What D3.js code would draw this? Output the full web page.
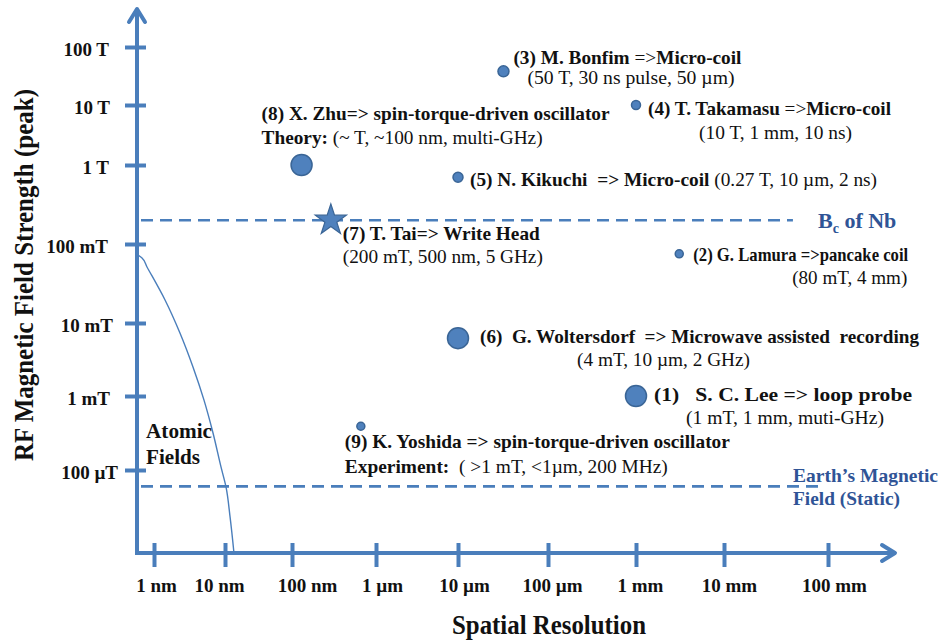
<!DOCTYPE html>
<html>
<head>
<meta charset="utf-8">
<script src="https://cdn.jsdelivr.net/npm/d3@7"></script>
<style>
  html, body { margin: 0; padding: 0; background: #ffffff; }
  svg { display: block; }
  svg text { font-family: "Liberation Serif", "Times New Roman", Times, serif !important; white-space: pre; }
</style>
</head>
<body>
<svg id="chart" width="946" height="641"></svg>
<script>
// ---- Axis ticks (spatial resolution in metres, field in tesla) ----
const xTickValues = [1e-9, 1e-8, 1e-7, 1e-6, 1e-5, 1e-4, 1e-3, 1e-2, 1e-1];
const xTickLabels = ["1 nm", "10 nm", "100 nm", "1 \u00b5m", "10 \u00b5m", "100 \u00b5m", "1 mm", "10 mm", "100 mm"];
const yTickValues = [1e-4, 1e-3, 1e-2, 1e-1, 1, 10, 100];
const yTickLabels = ["100 \u00b5T", "1 mT", "10 mT", "100 mT", "1 T", "10 T", "100 T"];

// ---- Experiments: resolution (m) and peak RF field (T) ----
const pointIds        = [1, 2, 3, 4, 5, 6, 8, 9];
const pointResolution = [1e-3, 3.1e-3, 3.2e-5, 1e-3, 1e-5, 1e-5, 1.3e-7, 6.6e-7];
const pointField      = [1e-3, 0.075, 38, 10, 0.7, 6.2e-3, 1, 3.9e-4];

// Write head (drawn as a star)
const starIds        = [7];
const starResolution = [2.9e-7];
const starField      = [0.2];

// ---- Atomic field envelope ----
const atomicResolution = [0.595e-9, 0.678e-9, 0.797e-9, 1.43e-9, 2.32e-9, 3.54e-9, 5.06e-9, 6.78e-9, 8.78e-9, 1.035e-8, 1.19e-8, 1.36e-8];
const atomicField      = [0.0726, 0.0665, 0.0512, 0.01955, 7.3e-3, 2.5e-3, 8.8e-4, 3.16e-4, 1.1e-4, 5.9e-5, 2.32e-5, 7.6e-6];

// ---- Reference field levels ----
const refNames  = ["Nb", "Earth"];
const refField  = [0.2, 6e-5];
const refExtent = [4.6e-2, 8.6e-2];

// ---- Annotation text: each line is a list of [weight, text] runs ----
const annotationText = {
  3: [[["b", "(3) M. Bonfim "], ["n", "=>"], ["b", "Micro-coil"]],
      [["n", "(50 T, 30 ns pulse, 50 \u00b5m)"]]],
  4: [[["b", "(4) T. Takamasu "], ["n", "=>"], ["b", "Micro-coil"]],
      [["n", "(10 T, 1 mm, 10 ns)"]]],
  8: [[["b", "(8) X. Zhu=> spin-torque-driven oscillator"]],
      [["b", "Theory: "], ["n", "(~ T, ~100 nm, multi-GHz)"]]],
  5: [[["b", "(5) N. Kikuchi  => Micro-coil "], ["n", "(0.27 T, 10 \u00b5m, 2 ns)"]]],
  7: [[["b", "(7) T. Tai=> Write Head"]],
      [["n", "(200 mT, 500 nm, 5 GHz)"]]],
  2: [[["b", "(2) G. Lamura =>pancake coil"]],
      [["n", "(80 mT, 4 mm)"]]],
  6: [[["b", "(6)  G. Woltersdorf  => Microwave assisted  recording"]],
      [["n", "(4 mT, 10 \u00b5m, 2 GHz)"]]],
  1: [[["b", "(1)   S. C. Lee => loop probe"]],
      [["n", "(1 mT, 1 mm, muti-GHz)"]]],
  9: [[["b", "(9) K. Yoshida => spin-torque-driven oscillator"]],
      [["b", "Experiment:"], ["n", "  ( >1 mT, <1\u00b5m, 200 MHz)"]]]
};

// ---- Layout & style ----
const W = 946, H = 641;
const blue = "#4a7ebb";
const markFill = "#4f81bd";
const markStroke = "#3a6596";
const labelBlue = "#2f5496";
const originX = 137, originY = 553;

// hand-spaced decades of the axes (piecewise log scales)
const xDecades = [1e-10, 1e-9, 1e-8, 1e-7, 1e-6, 1e-5, 1e-4, 1e-3, 1e-2, 1e-1, 1];
const xDecadePx = [83, 154, 225, 292, 376, 458, 548, 636, 724, 828, 932];
const yDecades = [1e-6, 1e-5, 1e-4, 1e-3, 1e-2, 1e-1, 1, 10, 100, 1000];
const yDecadePx = [618, 544, 470, 396, 323, 244, 165, 105, 47, -11];

const x = d3.scaleLog().domain(xDecades).range(xDecadePx);
const y = d3.scaleLog().domain(yDecades).range(yDecadePx);

const markRadius = { 1: 10.5, 2: 4, 3: 5.5, 4: 4.5, 5: 5, 6: 10.5, 8: 10.5, 9: 4 };
// text offsets from each mark and target line widths
const annotationLayout = {
  3: [[10, -7, 228], [24, 13, 207]],
  4: [[12, 10, 243], [63, 34, 153]],
  8: [[-40, -45, 348], [-40, -21, 281]],
  5: [[12, 9, 407]],
  7: [[12, 20, 197], [12, 43, 200]],
  2: [[14, 7, 215], [113, 30, 115]],
  6: [[22, 5, 439], [119, 28, 173]],
  1: [[18, 5, 258], [50, 28, 198]],
  9: [[-16, 22, 385], [-16, 47, 323]]
};
const xLabelNudge = [2, -6, 15, 6, 6, 4, 4, 5, 6];
const yLabelRight = [118, 110, 113, 108, 109, 110, 109];

const svg = d3.select("#chart");
svg.append("rect").attr("width", W).attr("height", H).attr("fill", "#ffffff");

// ---- Reference dashed lines ----
const refG = svg.append("g");
refField.forEach((v, i) => {
  refG.append("line")
    .attr("x1", originX + 4).attr("x2", x(refExtent[i]))
    .attr("y1", y(v)).attr("y2", y(v))
    .attr("stroke", blue).attr("stroke-width", 2.6)
    .attr("stroke-dasharray", "12,7");
});

// ---- Atomic field curve ----
const atomicPts = atomicResolution.map((r, i) => [x(r), y(atomicField[i])]);
svg.append("path")
  .attr("d", d3.line().curve(d3.curveMonotoneY)(atomicPts))
  .attr("fill", "none").attr("stroke", blue).attr("stroke-width", 1.4);

// ---- Axes ----
const axisG = svg.append("g");
// y axis line + arrow
axisG.append("line").attr("x1", originX).attr("x2", originX)
  .attr("y1", originY + 2).attr("y2", 9)
  .attr("stroke", blue).attr("stroke-width", 4);
axisG.append("polyline")
  .attr("points", `${originX - 8},${22} ${originX},${9} ${originX + 8},${22}`)
  .attr("fill", "none").attr("stroke", blue).attr("stroke-width", 4)
  .attr("stroke-linecap", "round").attr("stroke-linejoin", "round");
// x axis line + arrow
axisG.append("line").attr("x1", originX - 2).attr("x2", 895)
  .attr("y1", originY).attr("y2", originY)
  .attr("stroke", blue).attr("stroke-width", 4);
axisG.append("polyline")
  .attr("points", `${882},${originY - 8} ${895},${originY} ${882},${originY + 8}`)
  .attr("fill", "none").attr("stroke", blue).attr("stroke-width", 4)
  .attr("stroke-linecap", "round").attr("stroke-linejoin", "round");

// x ticks via d3 axis
const xAxis = d3.axisBottom(x).tickValues(xTickValues)
  .tickFormat((d, i) => xTickLabels[i]).tickSizeOuter(0);
const gx = svg.append("g").attr("transform", `translate(0,${originY})`).call(xAxis);
gx.select(".domain").remove();
gx.selectAll(".tick line").attr("y1", -10).attr("y2", 14)
  .attr("stroke", blue).attr("stroke-width", 4);
gx.selectAll(".tick text")
  .attr("y", 39).attr("dy", 0)
  .attr("x", (d, i) => xLabelNudge[i])
  .attr("fill", "#111").attr("font-size", 19).attr("font-weight", "bold");

// y ticks via d3 axis
const yAxis = d3.axisLeft(y).tickValues(yTickValues)
  .tickFormat((d, i) => yTickLabels[i]).tickSizeOuter(0);
const gy = svg.append("g").attr("transform", `translate(${originX},0)`).call(yAxis);
gy.select(".domain").remove();
gy.selectAll(".tick line").attr("x1", -12).attr("x2", 9)
  .attr("stroke", blue).attr("stroke-width", 4);
gy.selectAll(".tick text")
  .attr("x", (d, i) => yLabelRight[i] - originX).attr("dy", 0).attr("y", 8)
  .attr("fill", "#111").attr("font-size", 19).attr("font-weight", "bold");

// ---- Axis titles ----
svg.append("text")
  .attr("transform", "translate(33,275) rotate(-90)")
  .attr("text-anchor", "middle")
  .attr("font-size", 28).attr("font-weight", "bold").attr("fill", "#111")
  .attr("textLength", 372).attr("lengthAdjust", "spacingAndGlyphs")
  .text("RF Magnetic Field Strength (peak)");
svg.append("text")
  .attr("x", 549).attr("y", 634)
  .attr("text-anchor", "middle")
  .attr("font-size", 28).attr("font-weight", "bold").attr("fill", "#111")
  .attr("textLength", 194).attr("lengthAdjust", "spacingAndGlyphs")
  .text("Spatial Resolution");

// ---- Reference labels ----
const bc = svg.append("text").attr("x", 818).attr("y", 228)
  .attr("font-size", 22).attr("font-weight", "bold").attr("fill", labelBlue);
bc.append("tspan").text("B");
bc.append("tspan").attr("font-size", 14).attr("dy", 5).text("c");
bc.append("tspan").attr("dy", -5).text(" of Nb");

svg.append("text").attr("x", 793).attr("y", 482)
  .attr("font-size", 19).attr("font-weight", "bold").attr("fill", labelBlue)
  .attr("textLength", 145).attr("lengthAdjust", "spacingAndGlyphs")
  .text("Earth\u2019s Magnetic");
svg.append("text").attr("x", 793).attr("y", 505)
  .attr("font-size", 19).attr("font-weight", "bold").attr("fill", labelBlue)
  .attr("textLength", 107).attr("lengthAdjust", "spacingAndGlyphs")
  .text("Field (Static)");

svg.append("text").attr("x", 146).attr("y", 438)
  .attr("font-size", 20).attr("font-weight", "bold").attr("fill", "#111")
  .attr("textLength", 66).attr("lengthAdjust", "spacingAndGlyphs").text("Atomic");
svg.append("text").attr("x", 146).attr("y", 464)
  .attr("font-size", 20).attr("font-weight", "bold").attr("fill", "#111")
  .attr("textLength", 54).attr("lengthAdjust", "spacingAndGlyphs").text("Fields");

// ---- Marks ----
const points = pointIds.map((id, i) => ({ id, px: x(pointResolution[i]), py: y(pointField[i]) }));
svg.append("g").selectAll("circle").data(points).join("circle")
  .attr("cx", d => d.px).attr("cy", d => d.py)
  .attr("r", d => markRadius[d.id])
  .attr("fill", markFill).attr("stroke", markStroke).attr("stroke-width", 1.5);

const stars = starIds.map((id, i) => ({ id, px: x(starResolution[i]), py: y(starField[i]) }));
svg.append("g").selectAll("path").data(stars).join("path")
  .attr("transform", d => `translate(${d.px},${d.py})`)
  .attr("d", d3.symbol(d3.symbolStar, 300))
  .attr("fill", markFill).attr("stroke", markStroke).attr("stroke-width", 1.2);

// ---- Annotations ----
const annG = svg.append("g").attr("fill", "#111");
[...points, ...stars].forEach(m => {
  const lines = annotationText[m.id];
  const lay = annotationLayout[m.id];
  lines.forEach((runs, li) => {
    const [dx, dy, len] = lay[li];
    const t = annG.append("text")
      .attr("x", m.px + dx).attr("y", m.py + dy)
      .attr("font-size", 19)
      .attr("textLength", len).attr("lengthAdjust", "spacingAndGlyphs");
    runs.forEach(([w, s]) => {
      t.append("tspan").attr("font-weight", w === "b" ? "bold" : "normal").text(s);
    });
  });
});
</script>
</body>
</html>
